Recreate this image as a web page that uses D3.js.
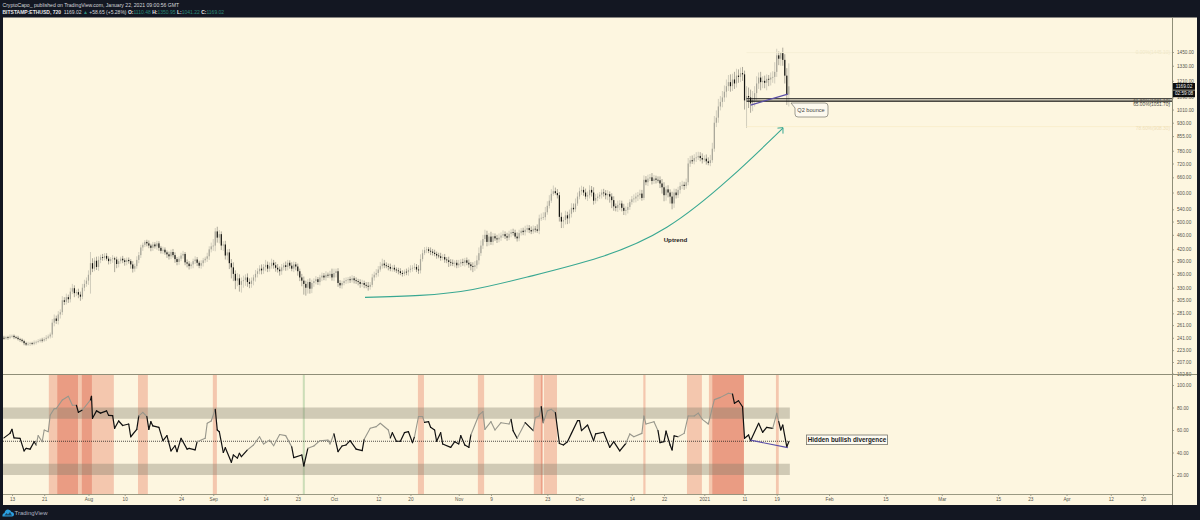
<!DOCTYPE html>
<html>
<head>
<meta charset="utf-8">
<script src="https://cdn.jsdelivr.net/npm/d3@7"></script>
<style>
html, body { margin: 0; padding: 0; background: #131722; }
svg { display: block; }
text { font-family: "Liberation Sans", sans-serif; }
</style>
</head>
<body>
<svg id="chart" width="1200" height="520"></svg>
<script>
// 12h ETHUSD closes, last bar is Jan 22 2021 00:00
const closes = [
  240,241,240,242,241,243,244,242,241,239,238,236,233,231,232,233,232,234,235,236,238,237,239,241,243,
  246,265,272,268,279,283,305,302,311,307,322,329,319,321,316,312,330,338,345,358,385,
  372,391,376,393,400,398,403,396,390,395,397,394,383,390,396,
  392,388,393,390,382,372,378,393,405,425,
  432,440,436,430,424,433,428,436,424,416,419,412,407,402,413,
  405,395,388,396,404,408,387,384,378,382,390,394,386,379,385,
  392,396,402,420,428,430,470,452,462,430,
  433,404,412,385,375,360,345,350,336,344,346,352,342,338,345,
  352,360,366,372,368,376,381,372,378,386,380,374,370,366,375,
  380,376,386,379,372,382,377,366,352,345,338,330,342,328,340,
  344,348,342,352,356,352,358,356,360,352,362,366,340,335,340,344,346,348,346,350,
  346,344,342,338,340,336,334,332,336,352,
  358,362,370,378,384,380,378,376,372,374,370,368,366,362,360,
  365,364,369,372,374,376,370,368,395,410,418,420,416,414,411,
  408,404,402,398,400,394,392,388,386,384,386,380,384,388,386,392,386,382,378,376,
  380,392,410,430,448,460,440,455,440,456,450,447,452,458,462,
  456,452,463,468,466,455,450,465,472,468,475,480,474,470,478,476,472,510,512,514,
  530,552,570,595,605,598,590,515,500,505,520,510,525,545,540,
  560,585,605,610,600,585,590,610,600,570,580,585,592,600,597,
  590,594,585,572,550,545,555,560,545,535,538,548,565,575,578,585,590,596,580,
  650,640,655,660,645,655,650,648,635,620,590,612,600,
  585,560,600,590,610,625,630,625,640,720,735,730,745,
  748,755,745,738,742,730,722,735,790,930,
  960,1030,1060,1090,1130,1170,1200,1170,1220,1190,1250,1240,1270,1260,1070,1100,1090,
  1050,1075,1120,1190,1235,1200,1210,1195,1225,1220,1235,1240,1280,1420,1390,1440,1380,1250,1110,1169
];
const wickUp = [
  2,2,3,2,2,3,2,2,2,3,2,2,2,2,3,2,2,3,2,3,
  2,3,3,4,3,3,6,7,5,6,5,8,6,7,5,8,9,6,5,7,
  6,8,9,7,10,28,12,8,10,9,6,8,7,7,6,5,8,4,7,6,
  5,7,5,6,6,5,8,6,9,8,7,6,5,6,8,5,7,6,7,6,
  5,8,6,5,7,6,8,7,5,6,7,8,5,7,6,5,6,8,6,5,
  7,6,5,9,8,10,18,10,14,12,8,9,10,8,9,10,12,8,12,9,
  8,10,7,9,8,7,6,9,7,8,10,7,12,8,9,10,7,8,9,7,
  8,6,9,7,6,8,7,6,7,6,8,9,7,6,8,7,6,7,5,6,
  7,6,8,5,7,12,10,6,7,6,5,7,6,5,6,7,5,6,5,6,
  7,5,6,8,6,8,7,9,8,10,12,9,7,6,8,6,7,5,6,7,
  6,5,7,6,8,6,9,7,10,12,9,8,7,6,9,7,8,6,7,9,
  7,8,6,9,7,8,6,7,9,7,8,6,7,8,6,9,10,12,15,14,
  12,15,12,10,14,9,8,10,12,9,11,8,10,9,8,10,9,12,10,8,
  9,12,10,9,11,10,8,15,12,14,16,18,16,20,18,22,14,15,12,14,
  10,15,12,14,16,15,18,15,14,16,12,15,14,18,15,20,14,12,10,12,
  14,12,15,10,12,14,10,15,12,10,14,12,14,10,12,15,14,12,15,14,
  18,15,16,14,18,15,12,14,16,18,20,14,16,12,18,15,14,12,15,16,
  12,15,25,20,22,18,25,20,18,22,16,20,18,25,30,40,45,50,40,45,
  45,50,55,60,45,60,55,50,45,50,30,70,60,55,60,50,55,40,45,35,
  40,35,30,40,45,80,60,35,10,50,50,60,181
];
const wickDown = [
  2,3,2,2,3,2,2,3,2,2,3,2,3,2,2,3,2,2,3,2,
  2,3,2,3,2,3,5,6,5,6,7,5,6,5,7,6,5,8,6,7,
  8,5,7,6,9,40,8,6,7,9,8,7,6,5,8,7,9,30,10,8,
  6,7,9,8,6,10,9,7,6,8,7,9,6,8,7,9,8,6,9,8,
  7,8,6,9,8,7,6,9,8,7,6,8,7,9,8,6,9,7,8,6,
  7,8,6,8,9,8,12,15,14,16,12,14,10,12,14,25,16,18,12,14,
  16,14,12,10,9,8,10,9,8,7,9,8,10,8,7,6,8,9,7,10,
  8,7,9,8,7,6,8,9,10,8,12,22,16,12,10,9,8,7,6,7,
  8,6,7,5,6,7,8,10,8,6,7,5,6,7,6,5,7,6,7,8,
  6,7,5,8,6,5,7,6,8,5,6,7,5,8,6,7,5,6,7,5,
  6,5,7,8,6,7,5,6,8,7,6,5,8,6,9,7,6,8,5,7,
  6,8,7,12,8,6,9,7,6,8,7,9,6,8,10,12,9,8,10,7,
  9,8,12,10,8,9,7,10,8,9,7,8,9,7,10,8,6,9,8,7,
  9,10,8,9,8,7,9,6,10,8,7,10,8,9,8,7,6,12,15,20,
  20,14,18,16,12,10,9,8,10,14,12,10,16,12,15,14,10,12,9,14,
  12,15,18,22,28,15,12,14,18,12,14,15,12,10,9,12,14,16,15,10,
  8,12,15,10,14,12,15,10,18,24,22,20,18,25,20,15,12,10,14,12,
  15,10,12,15,12,14,18,12,15,18,12,15,10,14,12,15,25,30,25,35,
  30,40,35,40,35,40,30,45,40,50,60,170,70,60,50,45,50,40,60,45,
  40,55,50,45,40,50,40,55,60,50,60,70,80
];

// RSI pane, bar index and value pairs
const rsiBar = [2,5,6,7,10,12,13,15,17,18,19,21,22,24,25,27,28,31,34,36,38,39,41,45,45.5,46,48,50,53,54,56,57,59,61,64,65,68,69,71,73,74,75,76,79,81,83,85,87,88,90,93,94,97,98,102,103,105,107,108,109,111,112,115,116,118,119,120,123,126,129,131,134,136,139,142,145,146,150,151,153,156,159,163,164,166,168,170,172,174,177,180,181,184,187,189,193,194,195,197,199,201,203,205,206,208,210,211,213,214,216,217,219,220,224,226,228,229,231,233,234,238,240,241,244,246,249,253,254,255,257,261,265,266,268,269,270,272,274,276,278,280,282,284,287,288,289,292,295,296,300,303,305,308,311,313,315,319,320,321,325,327,328,330,331,333,334,335,337,340,342,345,347,349,352,355,358,362,364,365,367,369,370,372,373,377,379,381,384,386,387,388,389,391,392];
const rsiValue = [53,57,60.6,53,52.6,41.4,43.7,43,49.6,46.7,55,49.6,60,58.5,73.3,79,79,86.7,90,82,82,75.7,77.8,86.7,90,70.4,77,75,77,73,72.7,61.5,68,64,65.3,54,60.6,72.5,75.7,72,60.6,67.4,63.6,62.4,50.5,55,41.4,46,40.8,52.6,43,43.7,42.3,49.6,52.6,66,68,78.4,60,58.5,40,44.3,31.3,37.8,35,39.3,36.3,42.3,46.7,54,47.6,51,46,56,55,45,35.5,37.8,28,43.7,45.8,50.5,51,47.6,56.5,40.8,45.8,46.7,50.5,43,41.7,51.7,61.5,63,66,60,53,57.6,50,50,57.6,58.5,48.8,54,72,72,66.8,67.4,62.4,60,50,57.6,47.6,44.6,49.6,47.6,55,46.7,44.6,55.6,73.3,76.3,60.6,67.4,60,66.5,65.3,69.5,59.4,52.6,66.5,59.4,71,72.5,80.7,66.5,77,78.4,75.4,48,46.7,49.6,57,68.3,68.3,59.4,64.4,50.5,56.5,58,44.6,49.6,41.4,48,56.5,54,57,72.5,65.3,67.4,59.4,48.8,49.6,59,46.7,42.3,54.7,54,57,72.5,72.5,75,69.5,65.3,87,89,92.6,92,83.7,86,80.7,52.6,55.6,50.5,66,58,62.4,61.5,74.8,67.4,60,64.4,45,49.6];
// bar ranges where the RSI line is drawn grey instead of black
const rsiGrey = [[18,38],[40,45],[69,73],[98,107],[122,143],[152,166],[181,194],[206,211],[234,254],[257,261],[265,269],[270,276],[311,326],[337,364],[384,387]];

// shaded columns, bar ranges
const shadeLight = [[24.3,56.6],[68.6,73.5],[105.8,107.8],[207.7,210.7],[237.5,240.6],[265.3,269.3],[270.3,276.8],[319.7,320.8],[341.4,348.8],[352.3,369.7],[385.6,387]];
const shadeDark = [[28.5,38.8],[40.7,45.7],[268.8,269.8],[354,369.7]];
const shadeGreen = [[150.5,151.5]];

// time axis
const timeTicks = ["2020-07-13","2020-07-21","2020-08-01","2020-08-10","2020-08-24","2020-09-01","2020-09-14","2020-09-22","2020-10-01","2020-10-12","2020-10-20","2020-11-01","2020-11-09","2020-11-23","2020-12-01","2020-12-14","2020-12-22","2021-01-01","2021-01-11","2021-01-19","2021-02-01","2021-02-15","2021-03-01","2021-03-15","2021-03-23","2021-04-01","2021-04-12","2021-04-20"];
const timeLabels = ["13","21","Aug","10","24","Sep","14","23","Oct","12","20","Nov","9","23","Dec","14","22","2021","11","19","Feb","15","Mar","15","23","Apr","12","20"];

const priceTicks = [1450,1330,1210,1090,1010,930,855,780,720,660,600,540,500,460,420,390,360,330,305,281,261,241,223,207,192.5];
const rsiTicks = [100,80,60,40,20];

// the curved uptrend arrow
const trendBar = [181.4,208.7,235,263.4,298.1,331.4,362.7,389.1];
const trendPrice = [310.6,314.5,326.5,354.4,399.5,482.4,656.6,899];

// fib style levels
const fibPrice = [1445,1081,1065,908];
const fibColor = ["#f5eed3","#111111","#111111","#f9ecca"];

const W = 1200, H = 520;
const cream = "#fdf6e0", dark = "#131722", axisGrey = "#8f8e78";
const paneL = 3, paneR = 1197, axisX = 1172.5;
const topY = 17.5, splitY = 374.5, timeY = 494.5, botY = 505;

const svg = d3.select("#chart");
svg.append("rect").attr("width", W).attr("height", H).attr("fill", dark);
svg.append("rect").attr("x", paneL).attr("y", topY).attr("width", paneR - paneL).attr("height", botY - topY).attr("fill", cream);

const x = d3.scaleUtc().domain([new Date("2020-07-13"), new Date("2021-04-20")]).range([12, 1143]);
const y = d3.scaleLog().domain([207, 1450]).range([362, 52]);
const r = d3.scaleLinear().domain([20, 100]).range([475, 385]);

const lastBar = Date.UTC(2021, 0, 22);
const n = closes.length;
const barDate = i => new Date(lastBar - (n - 1 - i) * 12 * 3600 * 1000);
const bx = i => x(barDate(i));

svg.append("clipPath").attr("id", "priceClip").append("rect")
  .attr("x", paneL).attr("y", topY).attr("width", axisX - paneL).attr("height", splitY - topY);

// price pane
const price = svg.append("g").attr("clip-path", "url(#priceClip)");

const candles = closes.map((c, i) => {
  const o = i ? closes[i - 1] : c;
  return { i, o, c, h: Math.max(o, c) + (wickUp[i] || 0), l: Math.min(o, c) - (wickDown[i] || 0) };
});

price.append("g").selectAll("line").data(candles).join("line")
  .attr("x1", d => bx(d.i)).attr("x2", d => bx(d.i))
  .attr("y1", d => y(d.h)).attr("y2", d => y(d.l))
  .attr("stroke", d => d.c >= d.o ? "#b5b3a6" : "#77756b")
  .attr("stroke-width", 0.6);

price.append("g").selectAll("rect").data(candles).join("rect")
  .attr("x", d => bx(d.i) - 0.6).attr("width", 1.2)
  .attr("y", d => Math.min(y(d.o), y(d.c)))
  .attr("height", d => Math.max(0.8, Math.abs(y(d.o) - y(d.c))))
  .attr("fill", d => d.c >= d.o ? "#a8a699" : "#141410");

// fib lines
fibPrice.forEach((p, i) => {
  price.append("line")
    .attr("x1", bx(371)).attr("x2", axisX)
    .attr("y1", y(p)).attr("y2", y(p))
    .attr("stroke", fibColor[i]).attr("stroke-width", i == 1 || i == 2 ? 1.1 : 0.8);
});
const fibText = [["0.00%(1445.10)", 1445, "#f0e8c8"], ["61.80%(1081.10)", 1060, "#55544c"], ["65.00%(1051.70)", 1040, "#55544c"], ["78.60%(908.30)", 895, "#efe0b8"]];
fibText.forEach(t => {
  svg.append("text").attr("x", 1170).attr("y", y(t[1]) + 1.5)
    .attr("text-anchor", "end").attr("font-size", 4.8).attr("fill", t[2]).text(t[0]);
});

// support line under the pullback
const line = d3.line().x(d => bx(d[0])).y(d => y(d[1]));
price.append("path").attr("d", line([[373, 1039], [391.5, 1113]]))
  .attr("fill", "none").attr("stroke", "#5b4fa8").attr("stroke-width", 1.2);

// uptrend arrow
const trendPts = trendBar.map((b, i) => [b, trendPrice[i]]);
price.append("path").attr("d", line.curve(d3.curveNatural)(trendPts))
  .attr("fill", "none").attr("stroke", "#39a892").attr("stroke-width", 1.1);
const tipX = bx(trendBar[7]), tipY = y(trendPrice[7]);
price.append("path").attr("d", `M${tipX - 5.5},${tipY} L${tipX},${tipY - 0.5} L${tipX},${tipY + 5.5}`)
  .attr("fill", "none").attr("stroke", "#39a892").attr("stroke-width", 1);

svg.append("text").attr("x", 675.5).attr("y", 242).attr("text-anchor", "middle")
  .attr("font-family", "DejaVu Sans").attr("font-size", 6.2).attr("font-weight", "bold").attr("fill", "#222").text("Uptrend");

// Q2 bounce callout
svg.append("path")
  .attr("d", "M791,103 L795,108 L795,114 Q795,117 798,117 L825,117 Q828,117 828,114 L828,106 Q828,103 825,103 L798,103 L794,103 Z")
  .attr("fill", "#fdf9ee").attr("stroke", "#77766c").attr("stroke-width", 0.7);
svg.append("text").attr("x", 811).attr("y", 112).attr("text-anchor", "middle")
  .attr("font-size", 5.6).attr("fill", "#444").text("Q2 bounce");

// RSI pane
const rsiPane = svg.append("g");
const shade = (list, fill, op) => rsiPane.append("g").selectAll("rect").data(list).join("rect")
  .attr("x", d => bx(d[0])).attr("width", d => bx(d[1]) - bx(d[0]))
  .attr("y", splitY).attr("height", timeY - splitY)
  .attr("fill", fill).attr("opacity", op);
shade(shadeLight, "#e2593c", 0.3);
shade(shadeDark, "#d8462f", 0.33);
shade(shadeGreen, "#6fae6a", 0.35);

[[70, 80], [20, 30]].forEach(b => {
  rsiPane.append("rect").attr("x", paneL).attr("width", bx(392.5) - paneL)
    .attr("y", r(b[1])).attr("height", r(b[0]) - r(b[1]))
    .attr("fill", "#7f7d68").attr("opacity", 0.36);
});
rsiPane.append("line").attr("x1", paneL).attr("x2", bx(392.5))
  .attr("y1", r(50)).attr("y2", r(50))
  .attr("stroke", "#222").attr("stroke-width", 0.8).attr("stroke-dasharray", "1 1");

const isGrey = b => rsiGrey.some(g => b >= g[0] && b < g[1]);
const segs = rsiBar.slice(1).map((b, i) => ({ a: [rsiBar[i], rsiValue[i]], b: [b, rsiValue[i + 1]] }));
rsiPane.append("g").selectAll("line").data(segs).join("line")
  .attr("x1", d => bx(d.a[0])).attr("y1", d => r(d.a[1]))
  .attr("x2", d => bx(d.b[0])).attr("y2", d => r(d.b[1]))
  .attr("stroke", d => isGrey(d.a[0]) ? "#98978c" : "#111")
  .attr("stroke-width", d => isGrey(d.a[0]) ? 1.1 : 1.2)
  .attr("stroke-linecap", "round");

// divergence line
const rsiLine = d3.line().x(d => bx(d[0])).y(d => r(d[1]));
rsiPane.append("path").attr("d", rsiLine([[373, 51], [391.5, 44.3]]))
  .attr("fill", "none").attr("stroke", "#5b4fa8").attr("stroke-width", 1.1);

svg.append("rect").attr("x", 806.5).attr("y", 435).attr("width", 81).attr("height", 9.6)
  .attr("fill", "#fdfbf2").attr("stroke", "#77766c").attr("stroke-width", 0.8);
svg.append("text").attr("x", 847).attr("y", 442).attr("text-anchor", "middle")
  .attr("font-family", "DejaVu Sans").attr("font-size", 6.3).attr("font-weight", "bold").attr("fill", "#1a1a1a")
  .text("Hidden bullish divergence");

// axes
const styleAxis = g => {
  g.selectAll("path").remove();
  g.selectAll("line").attr("stroke", "#6d6c5c").attr("stroke-width", 0.6);
  g.selectAll("text").attr("font-family", "Liberation Sans").attr("font-size", 4.7).attr("fill", "#55544c");
};
const timeDates = timeTicks.map(d => new Date(d));
svg.append("g").attr("transform", `translate(0,${timeY})`)
  .call(d3.axisBottom(x).tickValues(timeDates).tickSize(1.5).tickPadding(1.5)
    .tickFormat((d, i) => timeLabels[i]))
  .call(styleAxis);

svg.append("g").attr("transform", `translate(${axisX},0)`)
  .call(d3.axisRight(y).tickValues(priceTicks).tickSize(1.5).tickPadding(3)
    .tickFormat(d3.format(".2f")))
  .call(styleAxis);
svg.append("g").attr("transform", `translate(${axisX},0)`)
  .call(d3.axisRight(r).tickValues(rsiTicks).tickSize(1.5).tickPadding(3)
    .tickFormat(d3.format(".2f")))
  .call(styleAxis);

// pane borders
svg.append("line").attr("x1", paneL).attr("x2", paneR).attr("y1", splitY).attr("y2", splitY)
  .attr("stroke", axisGrey).attr("stroke-width", 1);
svg.append("line").attr("x1", paneL).attr("x2", axisX).attr("y1", timeY).attr("y2", timeY)
  .attr("stroke", axisGrey).attr("stroke-width", 0.9);
svg.append("line").attr("x1", axisX).attr("x2", axisX).attr("y1", topY).attr("y2", botY)
  .attr("stroke", axisGrey).attr("stroke-width", 1);

// last price and countdown tags
[["1169.02", 83], ["02:59:08", 90.4]].forEach(t => {
  svg.append("rect").attr("x", axisX + 0.5).attr("y", t[1]).attr("width", 22).attr("height", 6.8).attr("fill", "#0d0d0d");
  svg.append("text").attr("x", axisX + 11.5).attr("y", t[1] + 5).attr("text-anchor", "middle")
    .attr("font-size", 4.7).attr("fill", "#f2f2f2").text(t[0]);
});

// header
svg.append("text").attr("x", 2.5).attr("y", 7).attr("font-size", 5.1).attr("fill", "#d6d8dc")
  .attr("font-family", "Open Sans").text("CryptoCapo_ published on TradingView.com, January 22, 2021 09:00:56 GMT");
const hdr = svg.append("text").attr("x", 2.5).attr("y", 13.5).attr("font-size", 5).attr("fill", "#d6d8dc")
  .attr("font-family", "Open Sans");
const teal = "#2b8a78";
[["BITSTAMP:ETHUSD, 720  ", "#e4e5e8", "bold"], ["1169.02 ", "#d6d8dc"], ["▲ ", teal], ["+58.65 (+5.28%) ", "#d6d8dc"],
 ["O:", "#e4e5e8", "bold"], ["1110.48 ", teal], ["H:", "#e4e5e8", "bold"], ["1350.95 ", teal],
 ["L:", "#e4e5e8", "bold"], ["1041.22 ", teal], ["C:", "#e4e5e8", "bold"], ["1169.02", teal]].forEach(t => {
  hdr.append("tspan").attr("fill", t[1]).attr("font-weight", t[2] || "normal").attr("xml:space", "preserve").text(t[0]);
});

// footer logo
const logo = svg.append("g").attr("transform", "translate(2,508.5)").attr("fill", "#2b9fe0");
logo.append("path").attr("d", "M0.5,8 Q0,5 2.5,4.5 Q3,1 6,1 Q8.5,1 9.5,3.5 Q12,3.5 12,6 Q12,8 10,8 Z");
logo.append("path").attr("d", "M2.5,7 L4.5,4.5 L6,6 L8,3.5 L10,7 Z").attr("fill", "#131722").attr("opacity", 0.65);
svg.append("text").attr("x", 14.5).attr("y", 514.8).attr("font-size", 6).attr("fill", "#aeb4c0")
  .attr("font-family", "Open Sans").text("TradingView");
</script>
</body>
</html>
